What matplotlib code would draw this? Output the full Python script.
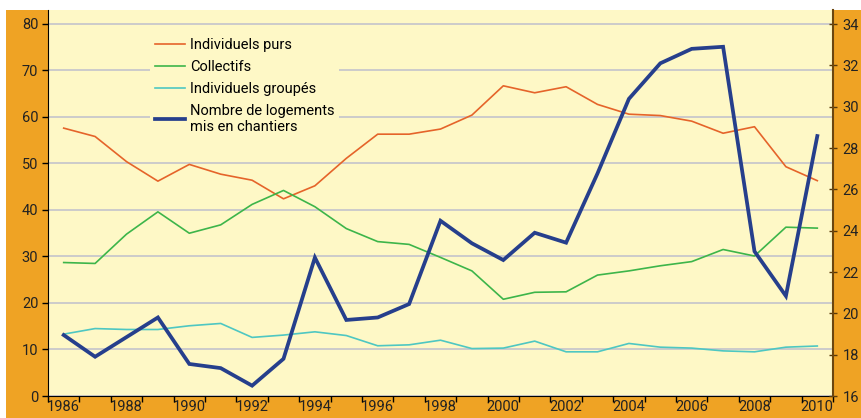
import matplotlib.pyplot as plt
from matplotlib.patches import Rectangle
from matplotlib.ticker import FixedLocator, NullFormatter
import numpy as np

plt.rcParams['font.family'] = ['Roboto', 'DejaVu Sans']

years = list(range(1986, 2011))
tick_years = [str(y) for y in range(1986, 2011, 2)]

# parts of housing starts (%), left axis
indiv_purs = [57.6, 55.8, 50.4, 46.2, 49.8, 47.7, 46.4, 42.4, 45.2, 51.1, 56.3, 56.3, 57.4,
              60.4, 66.7, 65.2, 66.5, 62.7, 60.6, 60.3, 59.1, 56.5, 57.9, 49.3, 46.3]
collectifs = [28.7, 28.5, 34.8, 39.6, 35.0, 36.8, 41.2, 44.2, 40.7, 36.0, 33.2, 32.6, 29.8,
              26.9, 20.8, 22.3, 22.4, 26.0, 26.9, 28.0, 28.9, 31.5, 30.1, 36.3, 36.1]
indiv_groupes = [13.3, 14.5, 14.3, 14.3, 15.1, 15.6, 12.6, 13.1, 13.8, 13.0, 10.8, 11.0, 12.0,
                 10.2, 10.3, 11.8, 9.5, 9.5, 11.3, 10.5, 10.3, 9.7, 9.5, 10.5, 10.75]
# number of housing starts, right axis
mises_chantier = [18.95, 17.9, 18.85, 19.8, 17.55, 17.35, 16.5, 17.8, 22.7, 19.68, 19.8, 20.45, 24.48,
                  23.39, 22.58, 23.9, 23.42, 26.77, 30.38, 32.1, 32.8, 32.9, 23.0, 20.84, 28.58]

orange_bg = '#EFA324'
plot_bg = '#FEF8C6'

fig = plt.figure(figsize=(8.61, 4.18), dpi=100)
fig.patch.set_facecolor('white')
fig.patches.append(Rectangle((6 / 861, 0), 1, 1 - 10 / 418, transform=fig.transFigure,
                             facecolor=orange_bg, edgecolor='none', zorder=-10))

ax = fig.add_axes([48 / 861, 22 / 418, (833 - 48) / 861, (396 - 10) / 418])
ax.set_facecolor(plot_bg)
x = np.arange(len(years))

l1, = ax.plot(x, indiv_purs, color='#E5642A', lw=1.2, label='Individuels purs')
l2, = ax.plot(x, collectifs, color='#3DB54A', lw=1.2, label='Collectifs')
l3, = ax.plot(x, indiv_groupes, color='#4EC7C2', lw=1.2, label='Individuels groupés')

ax.set_ylim(0, 83)
ax.set_xlim(-0.5, len(years) - 0.5)
ax.set_yticks(range(0, 81, 10))
ax.yaxis.grid(True, color='#C4C4CC', lw=1.2)
ax.set_axisbelow(True)

ax.set_xticks(np.arange(0, len(years), 2))
ax.set_xticklabels(tick_years)
ax.xaxis.set_minor_locator(FixedLocator(np.arange(-0.5, len(years), 1)))
ax.xaxis.set_minor_formatter(NullFormatter())
ax.tick_params(axis='x', which='major', length=0, pad=3, labelsize=10.5, labelcolor='#222222')
ax.tick_params(axis='x', which='minor', length=4, width=1, color='black')
ax.tick_params(axis='y', length=4, width=1, labelsize=10.5, labelcolor='#222222', pad=3)

for s in ['top', 'right']:
    ax.spines[s].set_visible(False)
ax.spines['left'].set_color('black')
ax.spines['bottom'].set_color('black')

ax2 = ax.twinx()
l4, = ax2.plot(x, mises_chantier, color='#263F8C', lw=2.7, solid_joinstyle='miter',
               label='Nombre de logements\nmis en chantiers')
ax2.set_ylim(16, 34.68)
ax2.set_yticks(range(16, 35, 2))
ax2.tick_params(axis='y', length=6, width=1, direction='inout', color='#5A3A0A',
                labelsize=10.5, labelcolor='#222222', pad=4)
for s in ['top', 'left', 'bottom']:
    ax2.spines[s].set_visible(False)
ax2.spines['right'].set_color('#6B4710')
ax2.spines['right'].set_linewidth(1.5)

leg = ax2.legend(handles=[l1, l2, l3, l4], loc='upper left',
                 bbox_to_anchor=(143 / 861, 1 - 26 / 418), bbox_transform=fig.transFigure,
                 frameon=True, facecolor=plot_bg, edgecolor='none', framealpha=1,
                 fontsize=10.5, handlelength=2.1, handletextpad=0.3, labelspacing=0.55,
                 borderpad=0.3, fancybox=False)

fig.savefig('out.png', dpi=100, facecolor=fig.get_facecolor())
